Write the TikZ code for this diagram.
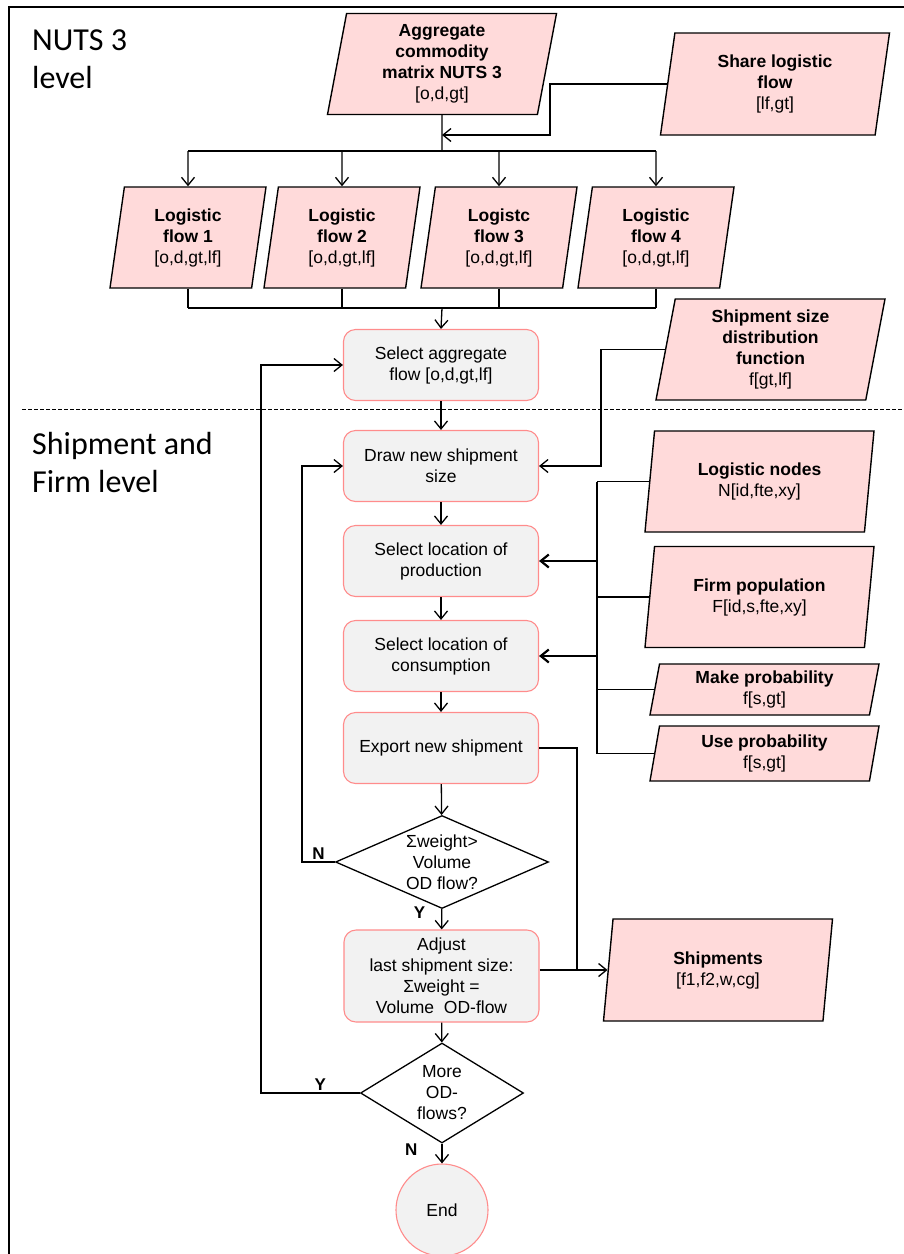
\documentclass[tikz,border=0pt]{standalone}
\usepackage{fontspec}
\setmainfont{Liberation Sans}
\newfontfamily\titlefont{Carlito}
\usetikzlibrary{shapes.geometric,arrows.meta,positioning}

\definecolor{datapink}{HTML}{FFDADA}
\definecolor{procgray}{HTML}{F2F2F2}
\definecolor{procedge}{HTML}{FF8C8C}

\begin{document}
\begin{tikzpicture}[x=1pt, y=-1pt, >={Straight Barb[length=8pt,width=13pt]}, node distance=95pt,
    every node/.style={font=\fontsize{17.5}{21}\selectfont, align=center},
    data/.style={trapezium, trapezium left angle=77, trapezium right angle=103, trapezium stretches body,
      draw=black, line width=1.4pt, fill=datapink, minimum width=229pt, minimum height=101pt, inner sep=2pt},
    proc/.style={rectangle, rounded corners=12pt, draw=procedge, line width=1.1pt, fill=procgray,
      minimum width=195pt, minimum height=71pt, inner sep=2pt},
    decide/.style={diamond, draw=black, line width=1.3pt, fill=white, inner sep=0pt},
    flow/.style={line width=1.3pt},
    yn/.style={font=\fontsize{17}{20}\selectfont\bfseries, inner sep=2pt},
    title/.style={font=\titlefont\fontsize{32}{38}\selectfont, align=left, anchor=base west, inner sep=0pt}]

    \useasboundingbox (0,0) rectangle (903,1254);

    % Frame and level separator
    \draw[line width=1.5pt] (9,1270) -- (9,7) -- (920,7);
    \draw[line width=1pt, dash pattern=on 4pt off 2pt] (22,409) -- (903,409);
    \node (nuts) [title] at (32,88) {NUTS 3\\level};
    \node (firmlvl) [title] at (32,492) {Shipment and\\Firm level};

    % Nodes
    \node (agg) [data] at (442,64) {\textbf{Aggregate}\\\textbf{commodity}\\\textbf{matrix NUTS 3}\\{}[o,d,gt]};
    \node (share) [data, minimum height=102pt] at (775,84) {\textbf{Share logistic}\\\textbf{flow}\\{}[lf,gt]};
    \node (lf1) [data, minimum width=156pt] at (188,237.5) {\textbf{Logistic}\\\textbf{flow 1}\\{}[o,d,gt,lf]};
    \node (lf2) [data, minimum width=156pt] at (342,237.5) {\textbf{Logistic}\\\textbf{flow 2}\\{}[o,d,gt,lf]};
    \node (lf3) [data, minimum width=156pt] at (499,237.5) {\textbf{Logistc}\\\textbf{flow 3}\\{}[o,d,gt,lf]};
    \node (lf4) [data, minimum width=156pt] at (656,237.5) {\textbf{Logistic}\\\textbf{flow 4}\\{}[o,d,gt,lf]};
    \node (selagg) [proc] at (441,365) {Select aggregate\\flow [o,d,gt,lf]};
    \node (ssd) [data] at (770.5,349.5) {\textbf{Shipment size}\\\textbf{distribution}\\\textbf{function}\\f[gt,lf]};

    \node (draw) [proc, below of=selagg, node distance=101pt] {Draw new shipment\\size};
    \node (prod) [proc, below of=draw] {Select location of\\production};
    \node (cons) [proc, below of=prod] {Select location of\\consumption};
    \node (export) [proc, below of=cons, node distance=92pt] {Export new shipment};

    \node (lnodes) [data] at (759.5,481.5) {\textbf{Logistic nodes}\\N[id,fte,xy]};
    \node (firm) [data] at (759.5,597) {\textbf{Firm population}\\F[id,s,fte,xy]};
    \node (make) [data, minimum height=51pt] at (764.5,689.5) {\textbf{Make probability}\\f[s,gt]};
    \node (usep) [data, minimum height=55pt] at (764.5,753.5) {\textbf{Use probability}\\f[s,gt]};

    \node (dec1) [decide, aspect=2.25, minimum width=213pt, minimum height=93pt] at (442,862) {Σweight>\\Volume\\OD flow?};
    \node (adjust) [proc, minimum height=92pt] at (441.5,976) {Adjust\\last shipment size:\\Σweight =\\Volume~ OD-flow};
    \node (ship) [data, minimum height=102pt] at (718,970) {\textbf{Shipments}\\{}[f1,f2,w,cg]};
    \node (dec2) [decide, aspect=1.6, minimum width=163pt, minimum height=100pt] at (442,1093) {More\\OD-\\flows?};
    \node (end) [circle, draw=procedge, line width=1.1pt, fill=procgray, minimum size=92pt, inner sep=0pt] at (442,1210) {End};

    % Bend points
    \coordinate (split) at (442,151);
    \coordinate (join) at (442,135);
    \coordinate (merge) at (442,308);
    \coordinate (bus) at (597,0);
    \coordinate (outbus) at (577,0);
    \coordinate (nloop) at (302,0);
    \coordinate (yloop) at (261,0);

    % Commodity matrix split into logistic flows
    \draw[flow] (agg.south) -- (split);
    \draw[flow, ->] (share.west) -- ++(-117pt,0) |- (join);
    \draw[flow] (split -| lf1) -- (split -| lf4);
    \draw[flow, ->] (split -| lf1) -- (lf1.north);
    \draw[flow, ->] (split -| lf2) -- (lf2.north);
    \draw[flow, ->] (split -| lf3) -- (lf3.north);
    \draw[flow, ->] (split -| lf4) -- (lf4.north);
    \draw[flow] (lf1.south) -- (lf1.south |- merge);
    \draw[flow] (lf2.south) -- (lf2.south |- merge);
    \draw[flow] (lf3.south) -- (lf3.south |- merge);
    \draw[flow] (lf4.south) -- (lf4.south |- merge);
    \draw[flow] (lf1.south |- merge) -- (lf4.south |- merge);
    \draw[flow, ->] (merge) -- (selagg.north);

    % Shipment loop
    \draw[flow, ->] (selagg) -- (draw);
    \draw[flow, ->] (ssd.west) -- ++(-64pt,0) |- (draw.east);
    \draw[flow, ->] (draw) -- (prod);
    \draw[flow, ->] (prod) -- (cons);
    \draw[flow, ->] (cons) -- (export);
    \draw[flow, ->] (export) -- (dec1);

    % Inputs for the location choice
    \draw[flow] (lnodes.west -| bus) -- (usep.west -| bus);
    \draw[flow] (lnodes.west) -- (lnodes.west -| bus);
    \draw[flow] (firm.west) -- (firm.west -| bus);
    \draw[flow] (make.west) -- (make.west -| bus);
    \draw[flow] (usep.west) -- (usep.west -| bus);
    \draw[flow, line width=2.2pt, ->] (prod.east -| bus) -- (prod.east);
    \draw[flow, line width=2.2pt, ->] (cons.east -| bus) -- (cons.east);

    % Output of shipments
    \draw[flow, ->] (export.east) -| (outbus |- ship.west) -- (ship.west);
    \draw[flow] (adjust.east |- ship.west) -- (outbus |- ship.west);

    % Decisions
    \draw[flow, ->] (dec1.west) -- node[yn, above] {N} (dec1.west -| nloop) |- (draw.west);
    \draw[flow, ->] (dec1) -- node[yn, left=14pt, pos=0.2] {Y} (adjust);
    \draw[flow, ->] (adjust) -- (dec2);
    \draw[flow, ->] (dec2.west) -- node[yn, above, pos=0.4] {Y} (dec2.west -| yloop) |- (selagg.west);
    \draw[flow, ->] (dec2) -- node[yn, left=22pt, pos=0.3] {N} (end);

\end{tikzpicture}
\end{document}
